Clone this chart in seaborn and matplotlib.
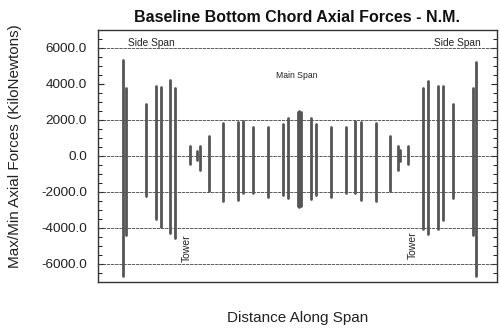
import matplotlib
matplotlib.use("Agg")
import matplotlib.pyplot as plt
import seaborn as sns
import pandas as pd
from matplotlib.ticker import MultipleLocator, FixedLocator

sns.set_theme(style="white")
plt.rcParams['font.family'] = ['Liberation Sans', 'DejaVu Sans']

# Member positions along span (arbitrary distance units) and max/min axial forces (kN)
positions = [25, 27.5, 47.7, 57.7, 62.7, 72.3, 77.3, 92, 99.3, 102, 110.5,
             125.3, 140, 145.3, 155, 170, 185, 190.3, 199.5, 201.3, 203,
             212.7, 217.7, 232.7, 247.7, 257.3, 262.7, 277.7, 292, 299.7,
             302, 309.7, 324.7, 330.3, 340, 344.7, 355, 375, 377.7]
max_force = [5315, 3790, 2900, 3875, 3820, 4210, 3790, 555, 280, 575, 1110,
             1810, 1885, 1960, 1625, 1625, 1775, 2125, 2450, 2475, 2450,
             2125, 1795, 1625, 1625, 1940, 1885, 1810, 1110, 575,
             315, 540, 3750, 4190, 3875, 3915, 2915, 3750, 5225]
min_force = [-6645, -4375, -2215, -3505, -3930, -4300, -4540, -420, -240, -790, -1940,
             -2510, -2435, -2065, -2065, -2250, -2140, -2360, -2780, -2810, -2780,
             -2400, -2160, -2270, -2065, -2065, -2435, -2510, -1940, -775,
             -275, -420, -4060, -4335, -4060, -3540, -2360, -4390, -6645]

yticks = [-6000, -4000, -2000, 0, 2000, 4000, 6000]
grid_levels = [-6000, -4000, -2000, 0, 2000, 6000]

rows = []
for i, (x, hi, lo) in enumerate(zip(positions, max_force, min_force)):
    rows.append({"member": i, "distance": x, "force": lo})
    rows.append({"member": i, "distance": x, "force": hi})
df = pd.DataFrame(rows)

fig = plt.figure(figsize=(5.0, 3.29), dpi=100)
ax = fig.add_subplot(111)
fig.subplots_adjust(left=98/500, right=497/500, top=1-30/329, bottom=1-282/329)

for g in grid_levels:
    ax.axhline(g, color="#444444", lw=0.6, ls=(0, (4, 1)), zorder=1)

sns.lineplot(data=df, x="distance", y="force", units="member", estimator=None,
             sort=False, color="#555555", lw=2.0, ax=ax, legend=False,
             solid_capstyle="round", zorder=3)

ax.set_xlim(0, 399)
ax.set_ylim(-7000, 7000)
ax.set_xticks([])
ax.yaxis.set_major_locator(FixedLocator(yticks))
ax.yaxis.set_minor_locator(MultipleLocator(500))
ax.set_yticklabels([f"{v:.1f}" for v in yticks], fontsize=9.7, color="#222222")
ax.tick_params(axis="y", which="major", direction="in", length=4, width=0.8,
               left=True, right=True, pad=8, colors="#222222")
ax.tick_params(axis="y", which="minor", direction="in", length=3, width=0.7,
               left=True, right=True, colors="#222222")
for s in ax.spines.values():
    s.set_color("#333333")
    s.set_linewidth(1.0)

ax.set_xlabel("Distance Along Span", fontsize=11, color="#222222", labelpad=21)
ax.set_ylabel("Max/Min Axial Forces (KiloNewtons)", fontsize=11, color="#222222")
ax.yaxis.set_label_coords(-0.19, 0.538)
ax.set_title("Baseline Bottom Chord Axial Forces - N.M.", fontsize=11.5,
             fontweight="bold", color="#111111", pad=6)

ax.text(53, 6300, "Side Span", fontsize=7.3, ha="center", va="center", color="#222222")
ax.text(359.5, 6300, "Side Span", fontsize=7.3, ha="center", va="center", color="#222222")
ax.text(198.5, 4470, "Main Span", fontsize=6.2, ha="center", va="center", color="#222222")
ax.text(88.7, -5110, "Tower", fontsize=7.5, ha="center", va="center", rotation=90, color="#222222")
ax.text(315, -4970, "Tower", fontsize=7.5, ha="center", va="center", rotation=90, color="#222222")

fig.savefig("out.png", dpi=100)
